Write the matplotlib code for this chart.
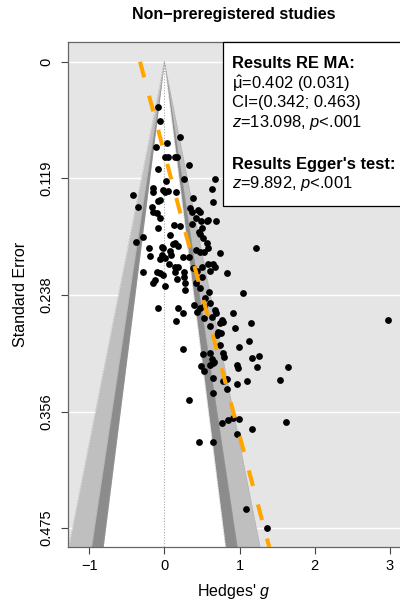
import numpy as np
import matplotlib
matplotlib.use("Agg")
import matplotlib.pyplot as plt
from matplotlib.patches import Rectangle

plt.rcParams['font.family'] = ['Liberation Sans', 'DejaVu Sans']
plt.rcParams['mathtext.fontset'] = 'custom'
plt.rcParams['mathtext.rm'] = 'Liberation Sans'
plt.rcParams['mathtext.it'] = 'Liberation Sans:italic'
plt.rcParams['mathtext.bf'] = 'Liberation Sans:bold'

# ---- data (Hedges' g, standard error) ----
hedges_g = [
    -0.080, -0.057, 0.209, 0.032, -0.110, 0.009, 0.053, 0.142, 0.169, 0.332,
    -0.080, 0.262, 0.023, 0.678, 0.630, -0.420, -0.146, -0.154, -0.013, 0.009,
    0.053, 0.156, 0.378, -0.346, -0.080, -0.057, -0.168, -0.154, -0.101, -0.057,
    0.342, 0.364, 0.452, 0.475, 0.422, 0.484, 0.129, 0.209, -0.080, 0.364,
    0.497, 0.465, 0.475, 0.076, -0.279, -0.376, 0.120, 0.142, 0.178, -0.035,
    -0.021, -0.199, 0.422, 0.475, 0.528, 0.076, 0.085, -0.190, 0.245, 0.332,
    -0.035, -0.057, 0.009, 0.066, 0.142, 0.186, 0.386, 0.431, 0.497, 0.652,
    0.564, 0.585, 0.688, 0.519, 0.564, 0.585, 1.219, 0.741, 0.585, 0.652,
    0.674, 0.608, 0.830, -0.279, -0.101, -0.057, -0.013, -0.146, -0.124, 0.009,
    0.142, 0.262, 0.262, 0.275, 0.165, 0.275, 0.422, 0.475, 0.497, 0.598,
    1.043, 0.541, 0.608, -0.080, 0.186, 0.245, 0.156, 0.395, 0.439, 0.475,
    0.528, 0.674, 0.688, 0.910, 0.630, 0.528, 0.763, 0.785, 0.741, 1.149,
    0.608, 0.940, 0.718, 0.750, 0.697, 1.130, 0.997, 0.741, 0.245, 2.971,
    0.511, 0.608, 0.630, 0.661, 0.785, 0.794, 1.166, 1.263, 0.484, 0.528,
    0.608, 0.644, 0.963, 0.984, 1.237, 1.641, 0.644, 0.777, 0.830, 0.963,
    1.096, 1.539, 0.830, 0.652, 0.332, 0.763, 0.851, 0.918, 0.997, 1.162,
    1.614, 0.963, 0.465, 0.644, 1.086, 1.366,
]
std_err = [
    0.0458, 0.0601, 0.0770, 0.0825, 0.0866, 0.0967, 0.0967, 0.0967, 0.0967, 0.1052,
    0.1096, 0.1198, 0.1212, 0.1198, 0.1296, 0.1357, 0.1283, 0.1330, 0.1307, 0.1330,
    0.1317, 0.1324, 0.1385, 0.1477, 0.1419, 0.1408, 0.1477, 0.1527, 0.1544, 0.1589,
    0.1490, 0.1527, 0.1510, 0.1527, 0.1595, 0.1622, 0.1663, 0.1673, 0.1697, 0.1656,
    0.1697, 0.1731, 0.1758, 0.1765, 0.1788, 0.1839, 0.1860, 0.1849, 0.1874, 0.1884,
    0.1900, 0.1900, 0.1918, 0.1935, 0.1935, 0.1928, 0.1968, 0.1976, 0.1986, 0.1986,
    0.1968, 0.2009, 0.2002, 0.2063, 0.2088, 0.2088, 0.2098, 0.2131, 0.2088, 0.1432,
    0.1622, 0.1612, 0.1622, 0.1798, 0.1849, 0.1894, 0.1900, 0.1951, 0.2063, 0.2063,
    0.2088, 0.2131, 0.2155, 0.2138, 0.2138, 0.2155, 0.2172, 0.2250, 0.2223, 0.2284,
    0.2138, 0.2138, 0.2196, 0.2250, 0.2216, 0.2325, 0.2257, 0.2308, 0.2189, 0.2342,
    0.2358, 0.2409, 0.2460, 0.2511, 0.2511, 0.2562, 0.2637, 0.2478, 0.2546, 0.2511,
    0.2488, 0.2529, 0.2562, 0.2556, 0.2597, 0.2613, 0.2630, 0.2648, 0.2658, 0.2664,
    0.2691, 0.2709, 0.2750, 0.2766, 0.2783, 0.2844, 0.2902, 0.2885, 0.2929, 0.2630,
    0.2977, 0.2963, 0.3031, 0.3053, 0.2969, 0.3002, 0.3020, 0.2997, 0.3096, 0.3150,
    0.3089, 0.3071, 0.3089, 0.3122, 0.3106, 0.3112, 0.3221, 0.3252, 0.3234, 0.3282,
    0.3252, 0.3241, 0.3336, 0.3377, 0.3445, 0.3682, 0.3649, 0.3631, 0.3638, 0.3740,
    0.3666, 0.3791, 0.3876, 0.3870, 0.4558, 0.4752,
]

contour_z = [1.645, 1.960, 2.576]          # 90%, 95%, 99% contours
contour_colors = ['white', '#8c8c8c', '#bfbfbf']
egger_intercept = -0.323
egger_slope = 3.476
x_ticks = [-1, 0, 1, 2, 3]
x_tick_labels = ['\u22121', '0', '1', '2', '3']
y_ticks = [0, 0.11875, 0.2375, 0.35625, 0.475]
y_tick_labels = ['0', '0.119', '0.238', '0.356', '0.475']
title = 'Non\u2212preregistered studies'
legend_lines = [
    ('Results RE MA:', True),
    (r'$\hat{\mathrm{\mu}}$=0.402 (0.031)', False),
    ('CI=(0.342; 0.463)', False),
    (r'$z$=13.098, $p$<.001', False),
    ('', False),
    ("Results Egger's test:", True),
    (r'$z$=9.892, $p$<.001', False),
]

# ---- figure ----
W, H = 400, 601
fig = plt.figure(figsize=(W / 100, H / 100), dpi=100)
ax = fig.add_axes([68.3 / W, 1 - 546.7 / H, (400 - 68.3) / W, (546.7 - 42) / H])
ax.set_facecolor('#e5e5e5')
ax.set_xlim(-1.277, 3.134)
ax.set_ylim(0.4939, -0.0201)

for yt in y_ticks:
    ax.axhline(yt, color='white', lw=1.0, zorder=1)

se_grid = np.linspace(0, 0.6, 200)
for i in [2, 1, 0]:
    z = contour_z[i]
    ax.fill_betweenx(se_grid, -z * se_grid, z * se_grid,
                     color=contour_colors[i], lw=0, zorder=2)
for z in contour_z:
    for s in (-1, 1):
        ax.plot(s * z * se_grid, se_grid, color='#a5a5a5', lw=0.45,
                ls=(0, (1, 1.5)), zorder=2.5)

ax.plot([0, 0], [0, 0.6], color='#a8a8a8', lw=0.8, ls=(0, (1, 1.5)), zorder=2.6)

ax.scatter(hedges_g, std_err, s=24, color='black', lw=0, zorder=4)

se_line = np.array([0, 0.6])
ax.plot(egger_intercept + egger_slope * se_line, se_line, color='#FFA500',
        lw=2.9, ls=(0, (4.0, 4.75)), dash_capstyle='butt', zorder=5)

ax.set_xticks(x_ticks)
ax.set_xticklabels(x_tick_labels)
ax.set_yticks(y_ticks)
ax.set_yticklabels(y_tick_labels, rotation=90, va='center')
ax.tick_params(axis='both', direction='out', length=5, width=0.8,
               colors='#444444', labelcolor='black', labelsize=10.5)
ax.tick_params(axis='x', pad=4)
ax.tick_params(axis='y', pad=6)
for sp in ax.spines.values():
    sp.set_color('#666666')
    sp.set_linewidth(0.9)
ax.spines['right'].set_visible(False)

ax.set_xlabel("Hedges' $g$", fontsize=11.5, labelpad=6)
ax.set_ylabel('Standard Error', fontsize=11.5, labelpad=8)
fig.text((68.3 + 400) / 2 / W, 1 - 15 / H, title, ha='center', va='center',
         fontsize=11.5, fontweight='bold')

# legend box (right edge runs off the figure as in the original)
box_x0 = (223.3 - 68.3) / (400 - 68.3)
box_y0 = (546.7 - 205.7) / (546.7 - 42)
ax.add_patch(Rectangle((box_x0, box_y0), 1.0, 1 - box_y0, transform=ax.transAxes,
                       facecolor='white', edgecolor='black', lw=0.9,
                       zorder=6, clip_on=False))
line_px = [64, 84, 103, 122.5, 143, 164, 183.5]
for (txt, bold), py in zip(legend_lines, line_px):
    if not txt:
        continue
    ax.text((231.7 - 68.3) / (400 - 68.3), (546.7 - py) / (546.7 - 42), txt,
            transform=ax.transAxes, ha='left', va='center', fontsize=11.9,
            fontweight='bold' if bold else 'normal', zorder=7)

fig.savefig('out.png', dpi=100)
